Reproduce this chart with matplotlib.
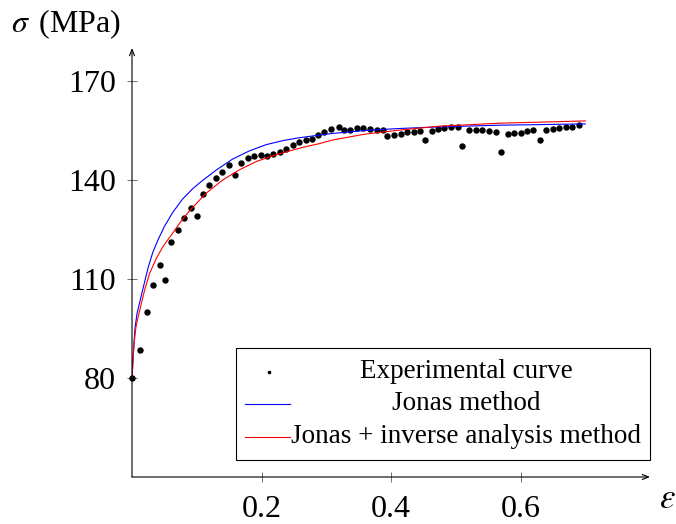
import numpy as np
import matplotlib.pyplot as plt
from matplotlib.patches import Rectangle
from matplotlib.lines import Line2D

plt.rcParams['font.family'] = ['Liberation Serif', 'DejaVu Serif']
plt.rcParams['mathtext.fontset'] = 'stix'

# experimental curve (strain, stress in MPa)
eps_exp = [0.000, 0.012, 0.023, 0.033, 0.043, 0.051, 0.061, 0.071, 0.080, 0.091,
           0.100, 0.110, 0.119, 0.130, 0.139, 0.150, 0.159, 0.169, 0.179, 0.189,
           0.199, 0.209, 0.218, 0.228, 0.238, 0.248, 0.258, 0.269, 0.278, 0.288,
           0.296, 0.308, 0.319, 0.327, 0.337, 0.347, 0.357, 0.367, 0.378, 0.388,
           0.394, 0.405, 0.415, 0.424, 0.435, 0.445, 0.453, 0.463, 0.473, 0.482,
           0.493, 0.503, 0.510, 0.520, 0.531, 0.541, 0.551, 0.562, 0.570, 0.580,
           0.590, 0.600, 0.610, 0.620, 0.630, 0.640, 0.650, 0.660, 0.670, 0.680,
           0.690]
sig_exp = [80.0, 88.4, 100.0, 108.1, 114.2, 109.6, 121.1, 124.9, 128.5, 131.4,
           129.2, 135.9, 138.4, 140.5, 142.5, 144.4, 141.4, 145.3, 146.6, 147.2,
           147.7, 147.2, 148.0, 148.6, 149.5, 150.6, 151.6, 152.2, 152.5, 153.6,
           154.4, 155.5, 156.0, 155.2, 155.2, 155.7, 155.7, 155.6, 155.3, 155.0,
           153.3, 153.6, 153.9, 154.6, 154.5, 154.9, 152.0, 154.8, 155.4, 155.7,
           156.1, 156.1, 150.4, 155.2, 155.1, 155.0, 154.8, 154.6, 148.6, 153.9,
           154.1, 154.2, 154.7, 155.0, 152.2, 155.1, 155.4, 155.9, 156.2, 156.1,
           156.6]

# Jonas method
eps_jonas = [0.0, 0.0026, 0.0046, 0.0077, 0.0111, 0.0172, 0.025, 0.032, 0.040,
             0.050, 0.063, 0.078, 0.094, 0.1067, 0.130, 0.155, 0.181, 0.207,
             0.232, 0.258, 0.289, 0.309, 0.36, 0.412, 0.474, 0.566, 0.70]
sig_jonas = [80.0, 89.2, 95.0, 99.5, 102.3, 107.3, 113.5, 118.0, 121.8,
             125.9, 130.2, 134.2, 137.4, 139.5, 143.0, 146.3, 148.8, 150.7,
             151.9, 152.8, 153.6, 154.1, 155.0, 155.6, 156.1, 156.6, 157.0]

# Jonas + inverse analysis method
eps_inv = [0.0, 0.002, 0.0036, 0.0062, 0.010, 0.0135, 0.0197, 0.0274, 0.0377,
           0.048, 0.061, 0.075, 0.089, 0.1145, 0.140, 0.166, 0.192, 0.217,
           0.243, 0.268, 0.289, 0.309, 0.36, 0.412, 0.474, 0.566, 0.70]
sig_inv = [80.0, 87.0, 91.2, 95.5, 99.0, 101.8, 106.8, 111.8, 116.3,
           119.9, 123.4, 127.3, 130.7, 136.0, 140.0, 143.1, 145.6, 147.3,
           148.8, 150.1, 151.0, 152.1, 153.9, 155.1, 156.3, 157.2, 157.9]

xticks = [0.2, 0.4, 0.6]
yticks = [80, 110, 140, 170]
legend_labels = ["Experimental curve", "Jonas method",
                 "Jonas + inverse analysis method"]

W, H = 676, 524
fig = plt.figure(figsize=(W / 100, H / 100), dpi=100)
ax = fig.add_axes([132 / W, 1 - 477 / H, 518 / W, 429 / H])


def fx(px):
    return px / W


def fy(py):
    return 1 - py / H


ax.plot(eps_exp, sig_exp, 'o', color='black', ms=4.6, mew=0, clip_on=False)
ax.plot(eps_jonas, sig_jonas, color='blue', lw=0.8)
ax.plot(eps_inv, sig_inv, color='red', lw=0.8)

ax.set_xlim(0, 0.8)
ax.set_ylim(50, 180)
for s in ax.spines.values():
    s.set_visible(False)

arrow = dict(arrowstyle='->,head_length=0.45,head_width=0.18', lw=0.8,
             color='black', shrinkA=0, shrinkB=0)
ax.annotate('', xy=(1, 0), xytext=(0, 0), xycoords='axes fraction', arrowprops=arrow)
ax.annotate('', xy=(0, 1), xytext=(0, 0), xycoords='axes fraction', arrowprops=arrow)

ax.set_xticks(xticks)
ax.set_xticklabels([str(t) for t in xticks])
ax.set_yticks(yticks)
ax.tick_params(direction='inout', length=7.2, width=0.6, color='0.35',
               labelsize=23)
ax.tick_params(axis='x', pad=9.5)
ax.tick_params(axis='y', pad=8)

fig.text(fx(11), fy(24), r'$\sigma\,$ (MPa)', fontsize=23, va='center', ha='left')
fig.text(fx(659), fy(499), r'$\varepsilon$', fontsize=25, va='center', ha='left')

# legend box drawn by hand so the texts are centred like the reference
fig.add_artist(Rectangle((fx(236), fy(460)), (650 - 236) / W, (460 - 348) / H,
                         transform=fig.transFigure, facecolor='white',
                         edgecolor='black', lw=0.8, zorder=5))
rows = [371.5, 403.5, 436.5]
fig.add_artist(Line2D([fx(269)], [fy(rows[0])], marker='o', ms=2.6, mew=0,
                      color='black', transform=fig.transFigure, zorder=6))
fig.add_artist(Line2D([fx(245), fx(290)], [fy(rows[1])] * 2, color='blue',
                      lw=0.8, transform=fig.transFigure, zorder=6))
fig.add_artist(Line2D([fx(245), fx(290)], [fy(rows[2])] * 2, color='red',
                      lw=0.8, transform=fig.transFigure, zorder=6))
for lab, r in zip(legend_labels, rows):
    fig.text(fx(466), fy(r), lab, fontsize=19.5, ha='center', va='center', zorder=6)

fig.savefig('out.png', dpi=100)
